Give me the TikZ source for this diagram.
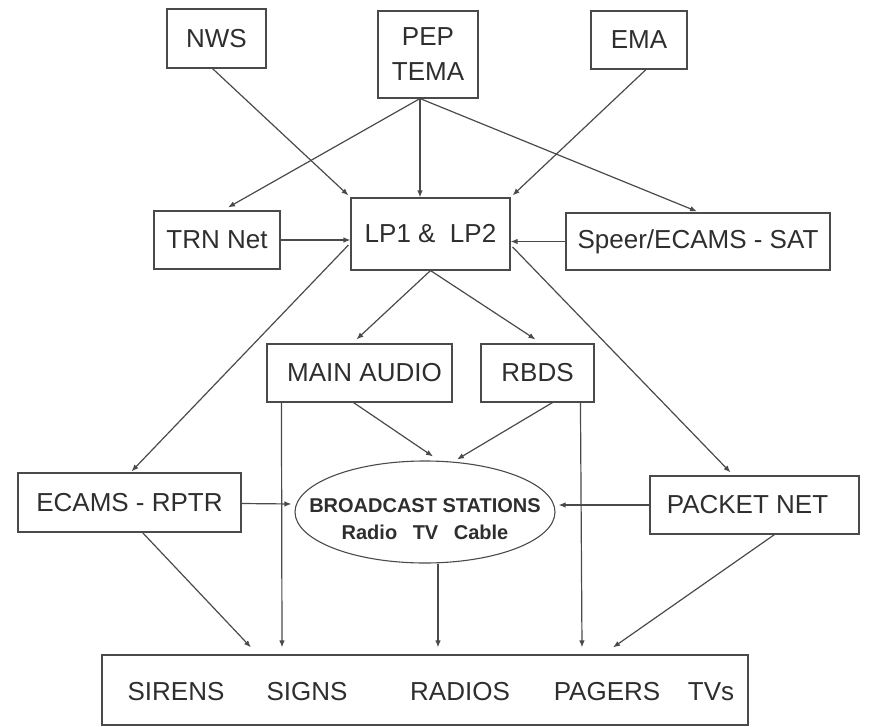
\documentclass[tikz,border=0pt]{standalone}
\usepackage{fontspec}
\setmainfont{Liberation Sans}
\usetikzlibrary{arrows.meta,calc,shapes.geometric}
\definecolor{ink}{HTML}{2E2E2E}
\definecolor{linec}{HTML}{4A4A4A}
\begin{document}
\begin{tikzpicture}[x=1pt,y=-1pt,
  boxn/.style={draw=linec,line width=1.1pt,rectangle,inner sep=0pt,text=ink,
     font=\fontsize{26}{35}\selectfont,align=center},
  conn/.style={draw=linec,line width=1.2pt,-{Latex[length=7pt,width=5.5pt]}},
  wordn/.style={inner sep=0pt,text=ink,font=\fontsize{26}{32}\selectfont}]
\useasboundingbox (0,0) rectangle (869,727);
% nodes
\node[boxn,minimum width=99pt,minimum height=59pt] (nws) at (216.5,38.5) {NWS};
\node[boxn,minimum width=100pt,minimum height=87pt] (pep) at (428,54.5) {PEP\\TEMA};
\node[boxn,minimum width=96pt,minimum height=58pt] (ema) at (639,40) {EMA};
\node[boxn,minimum width=126pt,minimum height=58pt] (trn) at (217,240) {TRN Net};
\node[boxn,minimum width=159pt,minimum height=72pt] (lp) at (430.5,234) {LP1 \&\ \ LP2};
\node[boxn,minimum width=264pt,minimum height=57pt] (speer) at (698,241.5) {Speer/ECAMS - SAT};
\node[boxn,minimum width=185pt,minimum height=58pt] (main) at (359.5,373) {\hspace*{10pt}MAIN AUDIO};
\node[boxn,minimum width=113pt,minimum height=58pt] (rbds) at (537.5,373) {RBDS};
\node[boxn,minimum width=223pt,minimum height=59pt] (ecams) at (129.5,502.5) {ECAMS - RPTR};
\node[draw=linec,line width=1.1pt,ellipse,inner sep=0pt,minimum width=260pt,minimum height=102pt,
  text=ink,font=\fontsize{20}{27}\selectfont\bfseries] (bc) at (425,512)
  {\makebox[0pt][c]{\raisebox{-14pt}[0pt][0pt]{\begin{tabular}{@{}c@{}}BROADCAST STATIONS\\Radio\hspace{0.5em} TV\hspace{0.5em} Cable\end{tabular}}}};
\node[boxn,minimum width=209pt,minimum height=58pt] (packet) at (754.5,505) {PACKET NET\hspace*{14pt}};
\node[boxn,minimum width=646pt,minimum height=70pt] (out) at (425,690) {};
\node[wordn] (w1) at (176,692) {SIRENS};
\node[wordn] (w2) at (307,692) {SIGNS};
\node[wordn] (w3) at (460,692) {RADIOS};
\node[wordn] (w4) at (607,692) {PAGERS};
\node[wordn] (w5) at (711,692) {TVs};
% helper coordinates
\coordinate (pepo) at ($(pep.south)+(-8,0)$);
\coordinate (tSir) at ($(out.north)+(-174,-7)$);
\coordinate (tSig) at ($(out.north)+(-143,-7)$);
\coordinate (tRad) at ($(out.north)+(13,-7)$);
\coordinate (tPag) at ($(out.north)+(157,-7)$);
\coordinate (tTv) at ($(out.north)+(188,-7)$);
% connectors
\draw[conn] ($(nws.south)+(-4,0)$) -- ($(lp.north west)+(-2,-2)$);
\draw[conn] (pepo) -- ($(trn.north)+(11,-3)$);
\draw[conn] (pepo) -- (pepo |- lp.north);
\draw[conn] (pepo) -- ($(speer.north)+(-1,-1)$);
\draw[conn] ($(ema.south)+(7,0)$) -- ($(lp.north east)+(2,-2)$);
\draw[conn] (trn.east) -- (trn.east -| lp.west);
\draw[conn] (speer.west) -- (speer.west -| lp.east);
\draw[conn] ($(lp.west)+(-2,11)$) -- ($(ecams.north)+(2,-1)$);
\draw[conn] ($(lp.east)+(2,13)$) -- ($(packet.north)+(-24,-3)$);
\draw[conn] (lp.south) -- ($(main.north)+(-3,-4)$);
\draw[conn] (lp.south) -- ($(rbds.north)+(-2,-4)$);
\draw[conn] ($(main.south)+(-6,0)$) -- ($(bc.north)+(8,-4)$);
\draw[conn] ($(rbds.south)+(15,0)$) -- ($(bc.north)+(32,-1)$);
\draw[conn] ($(main.south west)+(15,0)$) -- (tSig);
\draw[conn] ($(rbds.south west)+(100,0)$) -- (tPag);
\draw[conn] ($(ecams.east)+(0,1)$) -- ($(bc.west)+(-3,-8)$);
\draw[conn] (packet.west) -- ($(packet.west -| bc.east)+(3,0)$);
\draw[conn] ($(ecams.south)+(13,0)$) -- (tSir);
\draw[conn] ($(bc.south)+(13,0)$) -- (tRad);
\draw[conn] ($(packet.south)+(20,0)$) -- (tTv);
\end{tikzpicture}
\end{document}
